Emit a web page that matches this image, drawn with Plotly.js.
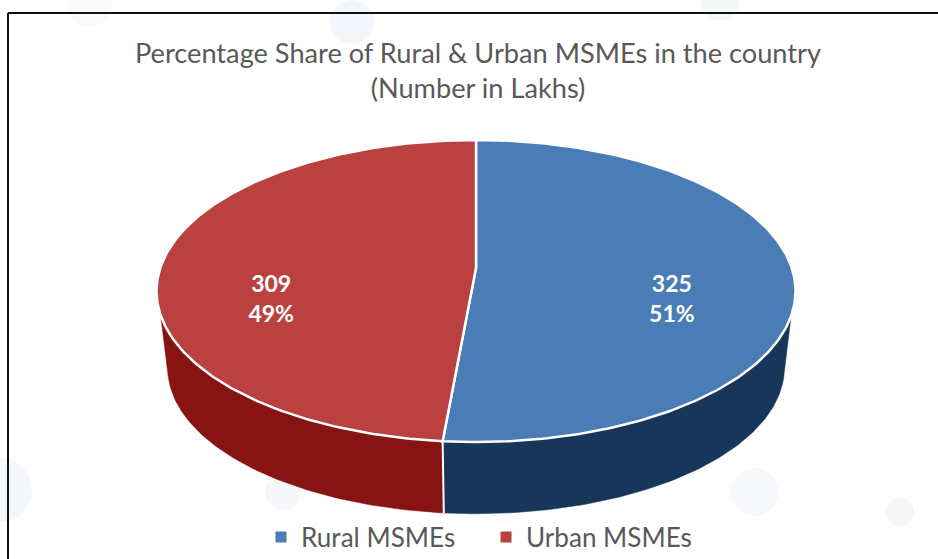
<!DOCTYPE html>
<html>
<head>
<meta charset="utf-8">
<script src="https://cdn.plot.ly/plotly-3.0.1.min.js"></script>
<style>html,body{margin:0;padding:0;background:#fff}#chart{width:938px;height:559px}</style>
</head>
<body>
<div id="chart"></div>
<script>
// Data
var categories = ['Rural MSMEs', 'Urban MSMEs'];
var values = [325, 309];
var topColors = ['#4A7DB6', '#BB4141'];
var sideColors = ['#183659', '#871313'];
var titleLines = ['Percentage Share of Rural & Urban MSMEs in the country', '(Number in Lakhs)'];

// Perspective disc geometry (pixel-equal axes)
var cx = 476, apexY = 268, backY = 140, frontY = 442, halfW = 319.5;
var c = (apexY - backY - (frontY - apexY)) / (frontY - backY);
var A = (apexY - backY) + backY * c;
var R = halfW * Math.sqrt(1 - c * c);
var midY = (backY + frontY) / 2;
var sBottom = 0.965, depthMid = 77;
var lean = 0.6; // degrees of view-angle lean at the front of the disc

function rim(thetaDeg) {
  var t0 = thetaDeg * Math.PI / 180;
  var t = t0 + (lean * Math.PI / 180) * (1 - Math.cos(t0)) / 2;
  var u = Math.sin(t), v = -Math.cos(t);
  var d = 1 + c * v;
  return { x: cx + R * u / d, y: (apexY + A * v) / d };
}
function rimBottom(thetaDeg) {
  var p = rim(thetaDeg);
  return { x: cx + sBottom * (p.x - cx), y: midY + depthMid + sBottom * (p.y - midY) };
}
function sweep(a, b) {
  var out = [], n = 240;
  for (var i = 0; i <= n; i++) out.push(a + (b - a) * i / n);
  return out;
}

var total = values.reduce(function (s, v) { return s + v; }, 0);
var traces = [];
var start = 0, mids = [], bounds = [];
values.forEach(function (v) {
  var end = start + v / total * 360;
  bounds.push([start, end]);
  mids.push((start + end) / 2);
  start = end;
});

// Sides first
bounds.forEach(function (b, i) {
  var th = sweep(b[0], b[1]);
  var tops = th.map(rim).filter(function (p) { return p.y >= midY + 24; });
  var bots = th.map(rimBottom).filter(function (p) { return p.y >= midY + depthMid + 8; }).reverse();
  var pts = tops.concat(bots);
  pts.push(pts[0]);
  traces.push({
    type: 'scatter', mode: 'lines', fill: 'toself', fillcolor: sideColors[i],
    x: pts.map(function (p) { return p.x; }), y: pts.map(function (p) { return p.y; }),
    line: { color: sideColors[i], width: 0.5 }, hoverinfo: 'skip', showlegend: false
  });
});
// White seam on the side wall at the slice boundary
var seamAngle = bounds[0][1];
traces.push({
  type: 'scatter', mode: 'lines',
  x: [rim(seamAngle).x, rimBottom(seamAngle).x], y: [rim(seamAngle).y, rimBottom(seamAngle).y],
  line: { color: '#fff', width: 2 }, hoverinfo: 'skip', showlegend: false
});
// Top surface
bounds.forEach(function (b, i) {
  var pts = sweep(b[0], b[1]).map(rim);
  pts.push({ x: cx, y: apexY });
  pts.push(pts[0]);
  traces.push({
    type: 'scatter', mode: 'lines', fill: 'toself', fillcolor: topColors[i],
    x: pts.map(function (p) { return p.x; }), y: pts.map(function (p) { return p.y; }),
    line: { color: '#fff', width: 2.5 }, hoverinfo: 'skip', showlegend: false
  });
});
// Data labels
var labelCx = 471.5, labelSpread = 200.5, labelY = 301.5;
traces.push({
  type: 'scatter', mode: 'text',
  x: mids.map(function (m) { return labelCx + labelSpread * Math.sin(m * Math.PI / 180); }),
  y: mids.map(function () { return labelY; }),
  text: values.map(function (v) { return '<b>' + v + '<br>' + Math.round(v / total * 100) + '%</b>'; }),
  textposition: 'middle center',
  textfont: { family: 'Lato, sans-serif', size: 23, color: '#fff' },
  hoverinfo: 'skip', showlegend: false
});
// Legend entries
categories.forEach(function (name, i) {
  traces.push({
    type: 'scatter', mode: 'markers', name: name, x: [null], y: [null],
    marker: { symbol: 'square', size: 11, color: topColors[i] }, hoverinfo: 'skip'
  });
});

// Faint backdrop decoration
var blobs = [[0, 490, 32, '#f4f7fb'], [283, 492, 18, '#f5f7fb'], [755, 492, 24, '#f7f8fb'], [900, 512, 14, '#f6f6f6'],
             [352, 22, 22, '#f3f7fb'], [720, 0, 20, '#f4f8f9'], [90, 5, 22, '#f9fafa']];
var shapes = blobs.map(function (b) {
  return { type: 'circle', layer: 'below', xref: 'x', yref: 'y', x0: b[0] - b[2], x1: b[0] + b[2], y0: b[1] - b[2], y1: b[1] + b[2],
           fillcolor: b[3], line: { width: 0 } };
});
shapes.push({ type: 'line', xref: 'x', yref: 'y', x0: 8, x1: 8, y0: 13, y1: 559, line: { color: '#111', width: 2 } });
shapes.push({ type: 'line', xref: 'x', yref: 'y', x0: 8, x1: 938, y0: 13, y1: 13, line: { color: '#111', width: 2 } });

var layout = {
  width: 938, height: 559, margin: { l: 0, r: 0, t: 0, b: 0, autoexpand: false },
  paper_bgcolor: '#fff', plot_bgcolor: 'rgba(0,0,0,0)',
  title: {
    text: titleLines.join('<br>'), x: 478 / 938, xanchor: 'center', y: 1 - 62.5 / 559, yanchor: 'top',
    font: { family: 'Lato, sans-serif', size: 27.2, color: '#595959' }
  },
  xaxis: { range: [0, 938], visible: false, fixedrange: true },
  yaxis: { range: [559, 0], visible: false, fixedrange: true },
  showlegend: true,
  legend: {
    orientation: 'h', x: 261 / 938, xanchor: 'left', y: 1 - 537 / 559, yanchor: 'middle',
    font: { family: 'Lato, sans-serif', size: 26.1, color: '#595959' },
    bgcolor: 'rgba(0,0,0,0)', itemwidth: 30, entrywidth: 180, entrywidthmode: 'pixels',
    itemclick: false, itemdoubleclick: false
  },
  shapes: shapes
};
Plotly.newPlot('chart', traces, layout, { displayModeBar: false, staticPlot: true });
</script>
</body>
</html>
